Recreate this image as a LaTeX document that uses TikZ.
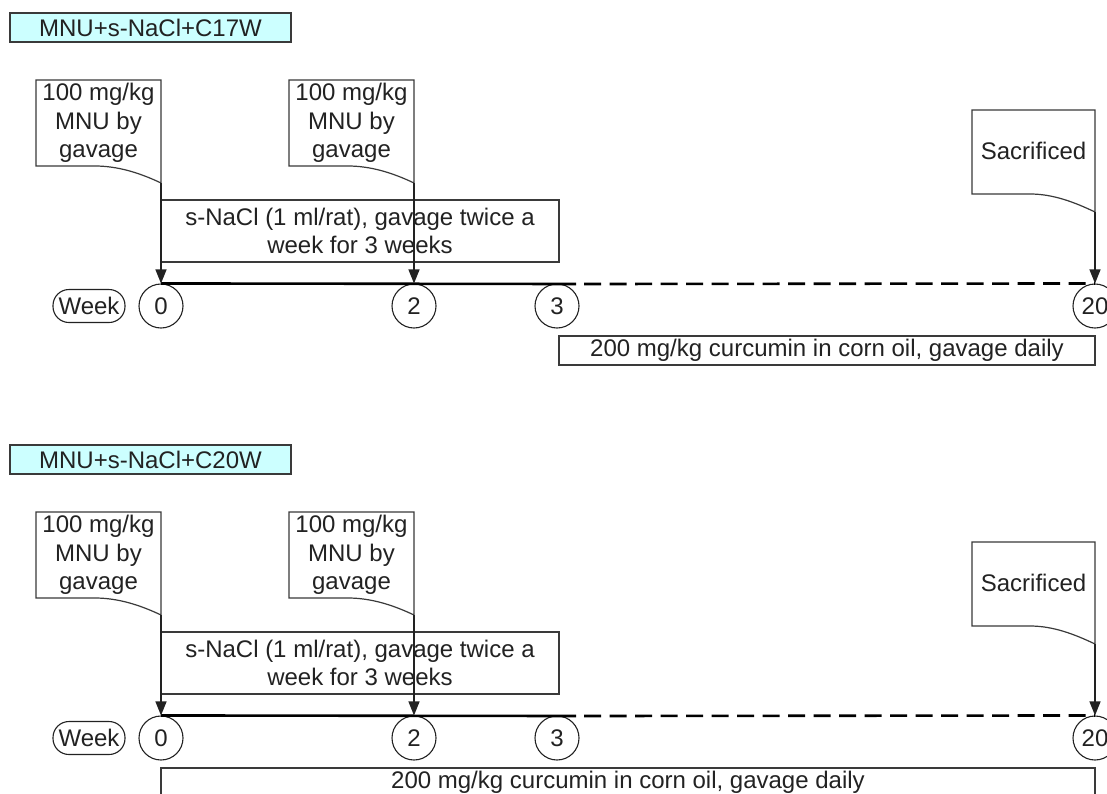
\documentclass[tikz,border=0pt]{standalone}
\usepackage{fontspec}
\setmainfont{Liberation Sans}
\usetikzlibrary{arrows.meta}
\newcommand\myfs{\fontsize{24}{28.5}\selectfont}
\definecolor{titlefill}{HTML}{CCFFFF}
\definecolor{edge}{HTML}{3A3A3A}
\definecolor{ink}{HTML}{222222}
\begin{document}
\begin{tikzpicture}[x=1pt,y=-1pt,
  every node/.style={font=\myfs, text=ink},
  titlebox/.style={draw=edge, line width=1.2pt, fill=titlefill, minimum width=281pt, minimum height=29pt, inner sep=0pt},
  docline/.style={draw=edge, line width=1.2pt, fill=white},
  doctext/.style={align=center, inner sep=0pt},
  plainbox/.style={draw=edge, line width=1.2pt, fill=white, inner sep=0pt, align=center},
  weekoval/.style={draw=ink, line width=1.1pt, rounded corners=16pt, minimum width=72pt, minimum height=33pt, inner sep=0pt},
  weekcirc/.style={draw=ink, line width=1.1pt, circle, minimum size=44pt, inner sep=0pt},
  arr/.style={draw=ink, line width=1.3pt, -{Triangle[length=14pt,width=11pt]}},
  tline/.style={draw=black, line width=2.6pt},
  dline/.style={draw=black, line width=2.6pt, dash pattern=on 17pt off 8.5pt}
]
\useasboundingbox (0,0) rectangle (1107,793);
\clip (0,0) rectangle (1107,793);
\fill[white] (0,0) rectangle (1107,793);
\foreach \p/\dy/\ttl in {1/0/MNU+s-NaCl+C17W, 2/432/MNU+s-NaCl+C20W} {
\begin{scope}[shift={(0,\dy)}]
  \node[titlebox] (title\p) at (150.5,27.5) {\ttl};
  % s-NaCl box
  \node[plainbox, minimum width=398pt, minimum height=62pt] (nacl\p) at (360,231)
    {s-NaCl (1 ml/rat), gavage twice a\\week for 3 weeks};
  % timeline circles
  \node[weekoval] (week\p) at (89,306) {Week};
  \node[weekcirc] (c0\p) at (161,306) {0};
  \node[weekcirc] (c2\p) at (414,306) {2};
  \node[weekcirc] (c3\p) at (557,306) {3};
  \node[weekcirc] (c20\p) at (1095,306) {20};
  \coordinate (solidend\p) at (576,284);
  \coordinate (dashstart\p) at (584,284);
  \draw[tline] (c0\p.north) -- (solidend\p);
  \draw[dline] (dashstart\p) -- (c20\p.north);
  % dose 1
  \draw[docline] (36,80) -- (161,80) -- (161,183) .. controls (140,173) and (118,166) .. (95,166) -- (36,166) -- cycle;
  \node[doctext] (dose1\p) at (98.5,123) {100 mg/kg\\MNU by\\gavage};
  \coordinate (tail1\p) at (161,183);
  % dose 2
  \draw[docline] (289,80) -- (414,80) -- (414,183) .. controls (393,173) and (371,166) .. (348,166) -- (289,166) -- cycle;
  \node[doctext] (dose2\p) at (351.5,123) {100 mg/kg\\MNU by\\gavage};
  \coordinate (tail2\p) at (414,183);
  % sacrificed
  \draw[docline] (972,110) -- (1095,110) -- (1095,212) .. controls (1074,202) and (1053,194) .. (1030,194) -- (972,194) -- cycle;
  \node[doctext] (sac\p) at (1033.5,151) {Sacrificed};
  \coordinate (tail3\p) at (1095,212);
  \draw[arr] (tail1\p) -- (c0\p.north);
  \draw[arr] (tail2\p) -- (c2\p.north);
  \draw[arr] (tail3\p) -- (c20\p.north);
\end{scope}
}
\node[plainbox, minimum width=536pt, minimum height=29pt] (cur1) at (827,350.5)
  {200 mg/kg curcumin in corn oil, gavage daily};
\node[plainbox, minimum width=934pt, minimum height=29pt] (cur2) at (628,782.5)
  {200 mg/kg curcumin in corn oil, gavage daily};
\end{tikzpicture}
\end{document}
